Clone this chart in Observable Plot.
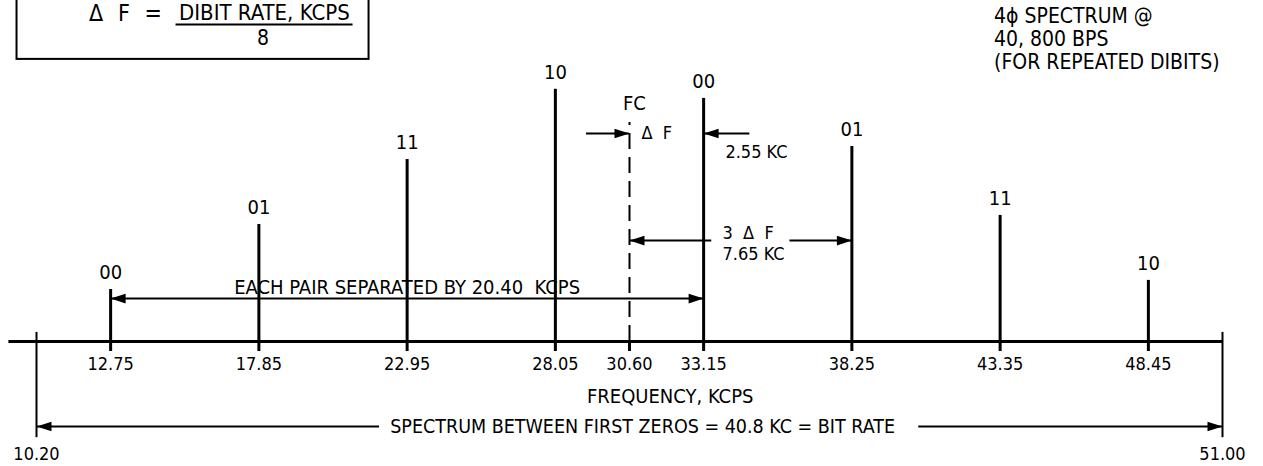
<!DOCTYPE html>
<html><head><meta charset="utf-8">
<script src="https://cdn.jsdelivr.net/npm/d3@7"></script>
<script src="https://cdn.jsdelivr.net/npm/@observablehq/plot@0.6"></script>
<style>body{margin:0;background:#fff}</style>
</head><body><div id="chart"></div>
<script>
// ---- data ----
const freqs  = [12.75, 17.85, 22.95, 28.05, 33.15, 38.25, 43.35, 48.45]; // KCPS
const amps   = [0.20, 0.45, 0.70, 0.97, 0.935, 0.75, 0.485, 0.235];      // relative line height
const dibits = ["00", "01", "11", "10", "00", "01", "11", "10"];
const tickValues = [12.75, 17.85, 22.95, 28.05, 30.60, 33.15, 38.25, 43.35, 48.45];
const carrier = 30.60;
const firstZeros = [10.20, 51.00];

// ---- annotation geometry (data units) ----
const arrowSegments = [
  {x1: 12.75, x2: 33.15, y: 0.165},
  {x1: 29.12, x2: 30.60, y: 0.80},
  {x1: 33.15, x2: 34.74, y: 0.80},
  {x1: 30.60, x2: 33.43, y: 0.388},
  {x1: 36.12, x2: 38.25, y: 0.388},
  {x1: 10.20, x2: 22.00, y: -0.327},
  {x1: 40.55, x2: 51.00, y: -0.327}
];
const arrowHeads = [
  {x: 12.75, y: 0.165, rot: 180}, {x: 33.15, y: 0.165, rot: 0},
  {x: 30.60, y: 0.80, rot: 0},    {x: 33.15, y: 0.80, rot: 180},
  {x: 30.60, y: 0.388, rot: 180}, {x: 38.25, y: 0.388, rot: 0},
  {x: 10.20, y: -0.327, rot: 180},{x: 51.00, y: -0.327, rot: 0}
];
const notesStart = [
  {x: 31.01, y: 0.80,  text: "Δ  F"},
  {x: 33.90, y: 0.727, text: "2.55 KC"},
  {x: 33.80, y: 0.415, text: "3  Δ  F"},
  {x: 33.80, y: 0.335, text: "7.65 KC"}
];
const notesMiddle = [
  {x: 30.77, y: 0.915, text: "FC"},
  {x: 22.95, y: 0.208, text: "EACH PAIR SEPARATED BY 20.40  KCPS"},
  {x: 32.00, y: -0.212, text: "FREQUENCY, KCPS"}
];
const spanNote = [{x: 31.05, y: -0.327, text: "SPECTRUM BETWEEN FIRST ZEROS = 40.8 KC = BIT RATE"}];
const titleNote = [{x: 43.14, y: 1.165, text: "4ϕ SPECTRUM @\n40, 800 BPS\n(FOR REPEATED DIBITS)"}];
const formulaSymbols = [
  {x: 12.25, y: 1.262, text: "Δ"},
  {x: 13.21, y: 1.262, text: "F"},
  {x: 14.21, y: 1.262, text: "="}
];
const formulaNumerator = [{x: 18.04, y: 1.262, text: "DIBIT RATE, KCPS"}];
const formulaDenominator = [{x: 17.99, y: 1.165, text: "8"}];
const formulaBox = [{x1: 9.53, x2: 21.64, y1: 1.085, y2: 1.45}];
const fractionBar = [{x1: 15.0, x2: 21.09, y: 1.219}];

const FONT = '"DejaVu Sans Condensed","DejaVu Sans",sans-serif';
const lines = freqs.map((f, i) => ({f, amp: amps[i], code: dibits[i]}));

const arrowHead = {draw(ctx) { ctx.moveTo(0, 0); ctx.lineTo(-15, -4.8); ctx.lineTo(-15, 4.8); ctx.closePath(); }};

const chart = Plot.plot({
  width: 1263,
  height: 466,
  marginLeft: 36,
  marginRight: 41,
  marginTop: 81,
  marginBottom: 125,
  style: {fontFamily: FONT, fontSize: "20px", color: "black", background: "white", overflow: "visible"},
  x: {domain: [10.20, 51.00]},
  y: {domain: [0, 1], axis: null},
  marks: [
    // baseline
    Plot.ruleY([0], {x1: 9.25, x2: 51.0, strokeWidth: 3}),
    // frequency axis with ticks below the baseline
    Plot.axisX({ticks: tickValues, tickFormat: d3.format(".2f"), tickSize: 10, tickPadding: 6,
                strokeWidth: 3, fontSize: 18, label: null}),
    // spectral lines
    Plot.ruleX(lines, {x: "f", y1: 0, y2: "amp", strokeWidth: 3}),
    Plot.text(lines, {x: "f", y: "amp", text: "code", dy: -17, fontSize: 20}),
    // carrier (dashed)
    Plot.ruleX([carrier], {y1: 0, y2: 0.842, strokeWidth: 2, strokeDasharray: "16,8"}),
    // first-zero markers
    Plot.ruleX(firstZeros, {y1: 0.035, y2: -0.37, strokeWidth: 2}),
    Plot.text(firstZeros, {x: d => d, y: -0.37, dy: 17, text: d => d.toFixed(2), fontSize: 18}),
    // arrows
    Plot.ruleY(arrowSegments, {y: "y", x1: "x1", x2: "x2", strokeWidth: 2}),
    Plot.dot(arrowHeads, {x: "x", y: "y", rotate: "rot", symbol: arrowHead, fill: "black", stroke: "none"}),
    // formula box
    Plot.rect(formulaBox, {x1: "x1", x2: "x2", y1: "y1", y2: "y2", fill: "none", stroke: "black", strokeWidth: 2}),
    Plot.ruleY(fractionBar, {y: "y", x1: "x1", x2: "x2", strokeWidth: 2}),
    Plot.text(formulaSymbols, {x: "x", y: "y", text: "text", fontSize: 23}),
    Plot.text(formulaNumerator, {x: "x", y: "y", text: "text", fontSize: 22}),
    Plot.text(formulaDenominator, {x: "x", y: "y", text: "text", fontSize: 21}),
    // text annotations
    Plot.text(notesStart, {x: "x", y: "y", text: "text", textAnchor: "start", fontSize: 18}),
    Plot.text(notesMiddle, {x: "x", y: "y", text: "text", textAnchor: "middle", fontSize: 20}),
    Plot.text(spanNote, {x: "x", y: "y", text: "text", textAnchor: "middle", fontSize: 19.5}),
    Plot.text(titleNote, {x: "x", y: "y", text: "text", textAnchor: "start", fontSize: 21, lineHeight: 1.1})
  ]
});
document.getElementById("chart").appendChild(chart);
</script>
</body></html>
